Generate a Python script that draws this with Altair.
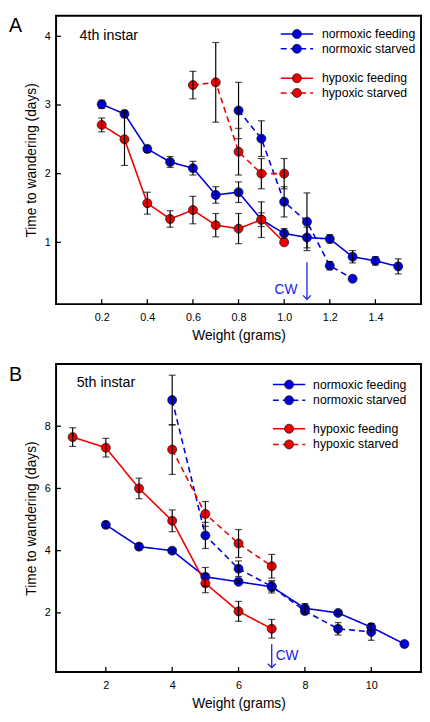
import altair as alt
import pandas as pd

# ---------------- data ----------------
series_names = ["normoxic feeding", "normoxic starved", "hypoxic feeding", "hypoxic starved"]
series_colors = ["#0000DD", "#0000DD", "#EE0000", "#EE0000"]
series_dash = [[1, 0], [6, 4], [1, 0], [6, 4]]

# Panel A (4th instar)
A_nf_x = [0.2, 0.3, 0.4, 0.5, 0.6, 0.7, 0.8, 0.9, 1.0, 1.1, 1.2, 1.3, 1.4, 1.5]
A_nf_y = [3.01, 2.87, 2.36, 2.17, 2.08, 1.69, 1.73, 1.33, 1.13, 1.07, 1.05, 0.79, 0.73, 0.65]
A_nf_e = [0.06, 0.05, 0.05, 0.08, 0.10, 0.12, 0.15, 0.10, 0.07, 0.15, 0.06, 0.09, 0.06, 0.11]

A_ns_x = [0.8, 0.9, 1.0, 1.1, 1.2, 1.3]
A_ns_y = [2.92, 2.51, 1.59, 1.30, 0.66, 0.47]
A_ns_e = [0.41, 0.26, 0.22, 0.42, 0.06, 0.0]

A_hf_x = [0.2, 0.3, 0.4, 0.5, 0.6, 0.7, 0.8, 0.9, 1.0]
A_hf_y = [2.71, 2.50, 1.57, 1.34, 1.47, 1.25, 1.20, 1.33, 1.00]
A_hf_e = [0.10, 0.38, 0.16, 0.12, 0.20, 0.17, 0.22, 0.26, 0.0]

A_hs_x = [0.6, 0.7, 0.8, 0.9, 1.0]
A_hs_y = [3.29, 3.33, 2.32, 2.00, 2.00]
A_hs_e = [0.20, 0.58, 0.34, 0.22, 0.22]

A_xticks = [0.2, 0.4, 0.6, 0.8, 1.0, 1.2, 1.4]
A_yticks = [1, 2, 3, 4]
A_cw = {"x": 1.1, "y_top": 0.71, "y_bot": 0.17, "tx": 1.058, "ty": 0.31}

# Panel B (5th instar)
B_nf_x = [2, 3, 4, 5, 6, 7, 8, 9, 10, 11]
B_nf_y = [4.83, 4.13, 4.00, 3.16, 3.00, 2.84, 2.15, 2.00, 1.54, 1.00]
B_nf_e = [0.10, 0.10, 0.05, 0.30, 0.05, 0.20, 0.15, 0.05, 0.10, 0.0]

B_ns_x = [4, 5, 6, 7, 8, 9, 10]
B_ns_y = [8.84, 4.49, 3.42, 2.85, 2.06, 1.49, 1.39]
B_ns_e = [0.80, 0.42, 0.25, 0.15, 0.10, 0.20, 0.27]

B_hf_x = [1, 2, 3, 4, 5, 6, 7]
B_hf_y = [7.65, 7.31, 6.00, 4.96, 2.95, 2.05, 1.49]
B_hf_e = [0.30, 0.30, 0.33, 0.35, 0.30, 0.32, 0.30]

B_hs_x = [4, 5, 6, 7]
B_hs_y = [7.25, 5.18, 4.23, 3.50]
B_hs_e = [0.80, 0.40, 0.45, 0.38]

B_xticks = [2, 4, 6, 8, 10]
B_yticks = [2, 4, 6, 8]
B_cw = {"x": 7.0, "y_top": 0.99, "y_bot": 0.24, "tx": 7.12, "ty": 0.60}

FONT = "Liberation Sans"


def make_df(groups):
    rows = []
    for name, xs, ys, es in groups:
        for x, y, e in zip(xs, ys, es):
            rows.append({"series": name, "x": x, "y": y, "lo": y - e, "hi": y + e, "e": e})
    return pd.DataFrame(rows)


def panel(letter, label, df, xdom, ydom, xticks, yticks, xfmt, cw, W, H,
          label_pos, leg_rows, leg_x):
    xs = alt.Scale(domain=xdom, nice=False, zero=False)
    ys = alt.Scale(domain=ydom, nice=False, zero=False)
    color = alt.Color("series:N", scale=alt.Scale(domain=series_names, range=series_colors), legend=None)
    dash = alt.StrokeDash("series:N", scale=alt.Scale(domain=series_names, range=series_dash), legend=None)

    xax = alt.Axis(values=xticks, format=xfmt, ticks=False, domain=False, grid=False,
                   labelFont=FONT, labelFontSize=11, labelPadding=8, labelColor="black",
                   title="Weight (grams)", titleFont=FONT, titleFontSize=14,
                   titleFontWeight="normal", titlePadding=6, titleColor="black")
    yax = alt.Axis(values=yticks, format="d", ticks=False, domain=False, grid=False,
                   labelFont=FONT, labelFontSize=11, labelPadding=6, labelColor="black",
                   title="Time to wandering (days)", titleFont=FONT, titleFontSize=14,
                   titleFontWeight="normal", titlePadding=6, titleColor="black")

    one = pd.DataFrame({"a": [0]})

    base = alt.Chart(df)
    lines = base.mark_line(strokeWidth=1.6).encode(
        x=alt.X("x:Q", scale=xs, axis=xax),
        y=alt.Y("y:Q", scale=ys, axis=yax),
        color=color, strokeDash=dash, order="x:Q")
    pts = base.mark_circle(size=85, opacity=1, stroke="#111111", strokeWidth=0.7).encode(
        x=alt.X("x:Q", scale=xs), y=alt.Y("y:Q", scale=ys),
        color=color)
    eb = base.transform_filter("datum.e > 0")
    bars = eb.mark_rule(color="black", strokeWidth=1.2).encode(
        x=alt.X("x:Q", scale=xs), y=alt.Y("lo:Q", scale=ys), y2="hi:Q")
    caps_hi = eb.mark_tick(color="black", thickness=1.2, size=7, orient="horizontal").encode(
        x=alt.X("x:Q", scale=xs), y=alt.Y("hi:Q", scale=ys))
    caps_lo = eb.mark_tick(color="black", thickness=1.2, size=7, orient="horizontal").encode(
        x=alt.X("x:Q", scale=xs), y=alt.Y("lo:Q", scale=ys))

    # inward-pointing ticks
    ytk = alt.Chart(pd.DataFrame({"t": yticks})).mark_rule(color="black", strokeWidth=1.3).encode(
        y=alt.Y("t:Q", scale=ys), x=alt.value(0), x2=alt.value(5))
    xtk = alt.Chart(pd.DataFrame({"t": xticks})).mark_rule(color="black", strokeWidth=1.3).encode(
        x=alt.X("t:Q", scale=xs), y=alt.value(H), y2=alt.value(H - 5))

    # CW annotation
    cwdf = pd.DataFrame({"x": [cw["x"]], "y1": [cw["y_top"]], "y2": [cw["y_bot"]],
                         "tx": [cw["tx"]], "ty": [cw["ty"]]})
    cwc = alt.Chart(cwdf)
    cw_line = cwc.mark_rule(color="#1a1ae0", strokeWidth=1.3).encode(
        x=alt.X("x:Q", scale=xs), y=alt.Y("y1:Q", scale=ys), y2="y2:Q")
    cw_head = cwc.mark_point(shape="M-1,-1L0,0L1,-1", filled=False, size=64, opacity=1,
                             stroke="#1a1ae0", strokeWidth=1.3).encode(
        x=alt.X("x:Q", scale=xs), y=alt.Y("y2:Q", scale=ys))
    align = "right" if cw["tx"] < cw["x"] else "left"
    cw_text = cwc.mark_text(text="CW", font=FONT, fontSize=14, color="#1a1ae0",
                            align=align, baseline="middle").encode(
        x=alt.X("tx:Q", scale=xs), y=alt.Y("ty:Q", scale=ys))

    letter_m = alt.Chart(one).mark_text(text=letter, font=FONT, fontSize=20, align="left",
                                        baseline="top", color="black").encode(
        x=alt.value(-48), y=alt.value(1))
    label_m = alt.Chart(one).mark_text(text=label, font=FONT, fontSize=14.5, align="left",
                                       baseline="middle", color="black").encode(
        x=alt.value(label_pos[0]), y=alt.value(label_pos[1]))

    leg = []
    for name, col, dsh, yy in zip(series_names, series_colors, series_dash, leg_rows):
        leg.append(alt.Chart(one).mark_rule(color=col, strokeWidth=1.6, strokeDash=dsh).encode(
            x=alt.value(leg_x[0]), x2=alt.value(leg_x[1]), y=alt.value(yy)))
        leg.append(alt.Chart(one).mark_circle(size=85, opacity=1, color=col, stroke="#111111",
                                              strokeWidth=0.7).encode(
            x=alt.value((leg_x[0] + leg_x[1]) / 2), y=alt.value(yy)))
        leg.append(alt.Chart(one).mark_text(text=name, font=FONT, fontSize=12.5, align="left",
                                            baseline="middle", color="black").encode(
            x=alt.value(leg_x[2]), y=alt.value(yy)))

    return alt.layer(lines, pts, bars, caps_hi, caps_lo, ytk, xtk,
                     cw_line, cw_head, cw_text, letter_m, label_m, *leg).properties(
        width=W, height=H)


dfA = make_df([
    ("normoxic feeding", A_nf_x, A_nf_y, A_nf_e),
    ("normoxic starved", A_ns_x, A_ns_y, A_ns_e),
    ("hypoxic feeding", A_hf_x, A_hf_y, A_hf_e),
    ("hypoxic starved", A_hs_x, A_hs_y, A_hs_e),
])
dfB = make_df([
    ("normoxic feeding", B_nf_x, B_nf_y, B_nf_e),
    ("normoxic starved", B_ns_x, B_ns_y, B_ns_e),
    ("hypoxic feeding", B_hf_x, B_hf_y, B_hf_e),
    ("hypoxic starved", B_hs_x, B_hs_y, B_hs_e),
])

W = 372
HA = 294
HB = 314
chartA = panel("A", "4th instar", dfA, [0.0, 1.6], [0.1, 4.3], A_xticks, A_yticks, ".1f", A_cw,
               W, HA, (24, 21), [18.7, 33.7, 63.7, 78.7], (W - 143, W - 110, W - 101))
chartB = panel("B", "5th instar", dfB, [0.5, 11.5], [0.1, 10.0], B_xticks, B_yticks, "d", B_cw,
               W, HB, (21, 19), [21, 37, 66, 82], (W - 151, W - 118, W - 110))

chart = alt.vconcat(chartA, chartB, spacing=20).properties(
    padding=0, background="white").configure_view(stroke="black", strokeWidth=2)

chart.save("out.html", embed_options={"renderer": "svg", "actions": False})
